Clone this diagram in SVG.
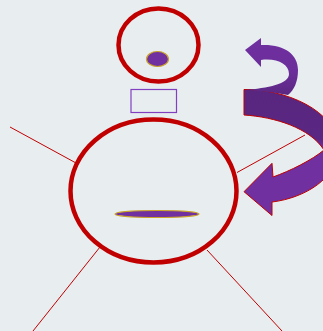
<svg xmlns="http://www.w3.org/2000/svg" width="323" height="331" viewBox="0 0 323 331">
  <defs>
    <style>
      .ring { fill: none; stroke: #C00000; stroke-width: 4.5; }
      .spoke { stroke: #C00000; stroke-width: 1; fill: none; }
      .dot { fill: #7030A0; stroke: #C9A227; stroke-width: 1.2; }
    </style>
    <linearGradient id="bandGrad" gradientUnits="userSpaceOnUse" x1="0" y1="88" x2="0" y2="216">
      <stop offset="0" stop-color="#58267F"/>
      <stop offset="0.4" stop-color="#5A2782"/>
      <stop offset="0.46" stop-color="#7030A0"/>
      <stop offset="1" stop-color="#7030A0"/>
    </linearGradient>
    <linearGradient id="curlGrad" gradientUnits="userSpaceOnUse" x1="0" y1="38" x2="0" y2="95">
      <stop offset="0" stop-color="#7030A0"/>
      <stop offset="0.6" stop-color="#6B2E9A"/>
      <stop offset="1" stop-color="#5A2782"/>
    </linearGradient>
  </defs>
  <rect width="323" height="331" fill="#E8EDF0"/>

  <g id="connectors">
    <line class="spoke" x1="10" y1="127" x2="76" y2="163"/>
    <line class="spoke" x1="100" y1="247" x2="33" y2="331"/>
    <line class="spoke" x1="207" y1="250" x2="282" y2="331"/>
    <line class="spoke" x1="305" y1="135" x2="237" y2="172.5"/>
  </g>

  <g id="head">
    <ellipse class="ring" cx="158.5" cy="45" rx="40" ry="36.5"/>
    <ellipse id="eye" class="dot" cx="157.5" cy="59" rx="11" ry="7.5"/>
  </g>

  <g id="neck">
    <rect x="131" y="89.5" width="45.5" height="23" fill="none" stroke="#8040C0" stroke-width="1.2"/>
  </g>

  <g id="body">
    <ellipse class="ring" cx="153.5" cy="191" rx="83" ry="71.5"/>
    <ellipse id="mouth" class="dot" cx="157" cy="214" rx="42" ry="3.5"/>
  </g>

  <g id="curved-arrow">
    <path d="M244,89.5 C283,88.5 338,110 338,148 C338,178 305,198 272,202 L272,215.5 L244,191.7 L272,163.3 L273,177 C290,171 312,160 324,150 C310,128 275,117 244,115 Z" fill="url(#bandGrad)" stroke="#C00000" stroke-width="1" stroke-linejoin="miter"/>
    <path d="M245,50 L261,38 L261,45 C284,44 298,54 298,70 C298,82 294,90 288,95 L270,92 C260,91 250,90 244.5,90 C268,88 289,84 289,74 C289,64 277,58 261,60 L261,67 Z" fill="url(#curlGrad)"/>
  </g>
</svg>
